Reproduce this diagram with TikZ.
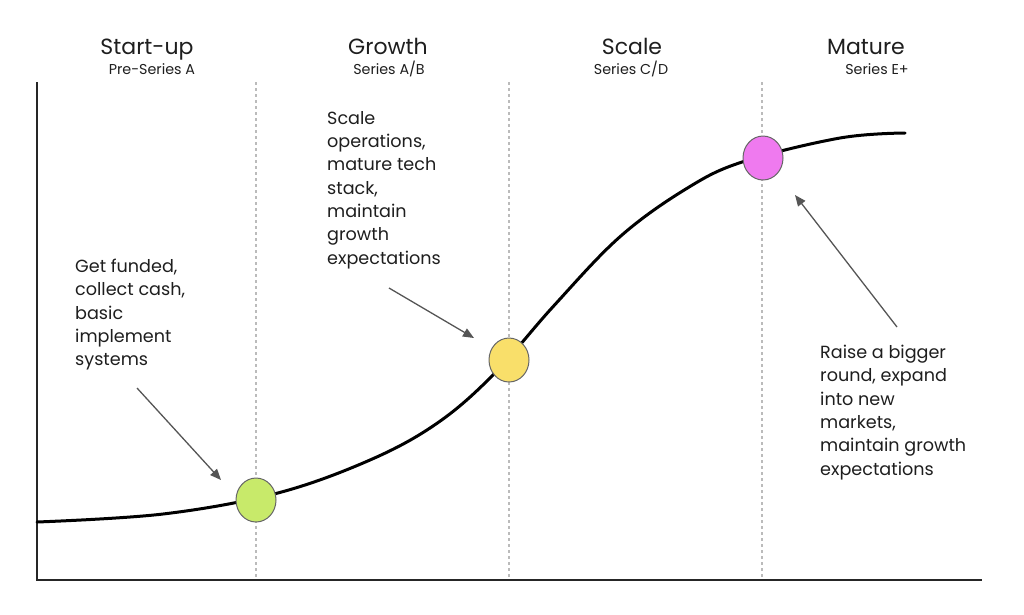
\documentclass[tikz,border=0pt]{standalone}
\usepackage{fontspec}
\setmainfont{Poppins}
\usetikzlibrary{arrows.meta,shapes.geometric}
\definecolor{cgreen}{HTML}{C8EA6A}
\definecolor{cyellow}{HTML}{F9DF6A}
\definecolor{cpink}{HTML}{EF7AEF}
\definecolor{arrowgray}{HTML}{555555}
\definecolor{dashgray}{HTML}{BBBBBB}
\definecolor{ink}{HTML}{1E1E1E}
\tikzset{
  head/.style={anchor=base, inner sep=0pt, font=\fontsize{22}{24}\selectfont, text=ink},
  sub/.style={anchor=base, inner sep=0pt, font=\fontsize{14.3}{16}\selectfont, text=ink},
  note/.style={anchor=north west, inner sep=0pt, align=left, font=\fontsize{17.6}{23.3}\selectfont, text=ink},
  stage/.style={draw=black!60, line width=1pt, ellipse, minimum width=40pt, minimum height=44pt},
  guide/.style={draw=dashgray, line width=1.5pt, dash pattern=on 3pt off 3pt},
  pointer/.style={draw=arrowgray, line width=1.3pt, -{Triangle[length=11pt,width=9pt]}},
}
\begin{document}
\begin{tikzpicture}[x=1pt,y=-1pt]
\useasboundingbox (0,0) rectangle (1024,614);
% guides
\coordinate (g1t) at (256,82); \coordinate (g1b) at (256,580);
\coordinate (g2t) at (509,82); \coordinate (g2b) at (509,580);
\coordinate (g3t) at (762,82); \coordinate (g3b) at (762,580);
\draw[guide] (g1t) -- (g1b);
\draw[guide] (g2t) -- (g2b);
\draw[guide] (g3t) -- (g3b);
% axes
\coordinate (ytop) at (37,82);
\coordinate (orig) at (37,580);
\coordinate (xend) at (982,580);
\draw[black!85, line width=2pt] (ytop) -- (orig) -- (xend);
% curve
\draw[black, line width=3pt, line cap=round]
  plot[smooth, tension=0.6] coordinates {
    (37,522) (163,514) (276.7,493.3) (370,460) (437,423.3) (493,375)
    (553,306.7) (620,236.7) (687,188.3) (743,161.7) (840,138) (905,133)};
% stages
\node[stage, fill=cgreen] (s1) at (256,500) {};
\node[stage, fill=cyellow] (s2) at (509,360) {};
\node[stage, fill=cpink] (s3) at (763,158) {};
% headers
\node[head] (h1) at (147,54) {Start-up};
\node[sub] (u1) at (152,74) {Pre-Series A};
\node[head] (h2) at (388,54) {Growth};
\node[sub] (u2) at (389,74) {Series A/B};
\node[head] (h3) at (632,54) {Scale};
\node[sub] (u3) at (631,74) {Series C/D};
\node[head] (h4) at (866,54) {Mature};
\node[sub] (u4) at (877,74) {Series E+};
% notes
\node[note] (n1) at (75,259) {Get funded,\\collect cash,\\basic\\implement\\systems};
\node[note] (n2) at (327,111) {Scale\\operations,\\mature tech\\stack,\\maintain\\growth\\expectations};
\node[note] (n3) at (820,345) {Raise a bigger\\round, expand\\into new\\markets,\\maintain growth\\expectations};
% pointers
\coordinate (a1) at (137,388); \coordinate (b1) at (221,480);
\coordinate (a2) at (389,288); \coordinate (b2) at (474,338);
\coordinate (a3) at (897,327); \coordinate (b3) at (795,195);
\draw[pointer] (a1) -- (b1);
\draw[pointer] (a2) -- (b2);
\draw[pointer] (a3) -- (b3);
\end{tikzpicture}
\end{document}
